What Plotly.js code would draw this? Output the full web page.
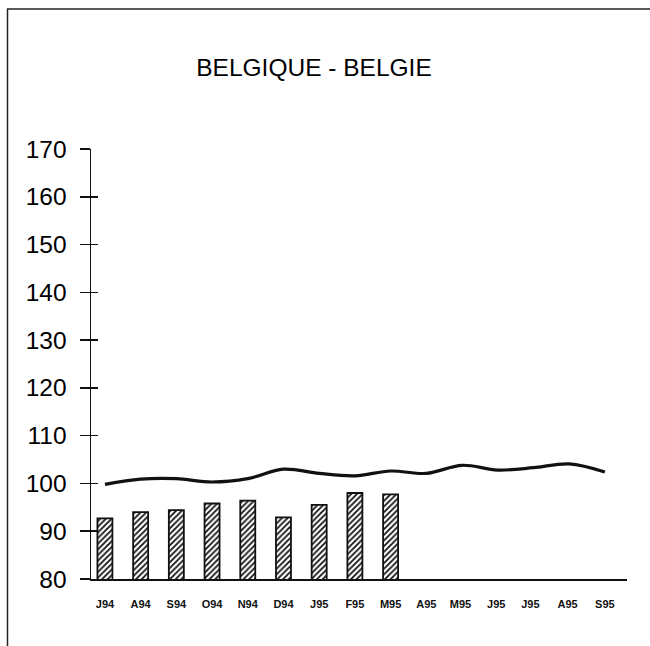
<!DOCTYPE html>
<html>
<head>
<meta charset="utf-8">
<script src="https://cdn.plot.ly/plotly-3.0.1.min.js"></script>
<style>
html,body{margin:0;padding:0;background:#fff;overflow:hidden;}
#chart{width:650px;height:646px;}
</style>
</head>
<body>
<div id="chart"></div>
<script>
const months = ["J94","A94","S94","O94","N94","D94","J95","F95","M95","A95","M95 ","J95 ","J95  ","A95 ","S95"];
const barValues = [92.7, 94.0, 94.4, 95.8, 96.4, 92.9, 95.5, 98.0, 97.7, null, null, null, null, null, null];
const lineValues = [99.8, 100.9, 101.0, 100.3, 101.0, 103.0, 102.1, 101.6, 102.6, 102.1, 103.8, 102.8, 103.3, 104.1, 102.4];
const yTicks = [80, 90, 100, 110, 120, 130, 140, 150, 160, 170];

const font = "Liberation Sans, Arial, Helvetica, sans-serif";
const W = 650, H = 646, L = 91, R = 23, T = 149, B = 67;
const pw = W - L - R, ph = H - T - B;
const px = v => (v - L) / pw;
const py = v => (H - B - v) / ph;

const data = [
  {
    type: "bar", x: months, y: barValues, width: 0.42,
    marker: {color: "#fff", line: {color: "#111", width: 1.8},
      pattern: {shape: "/", fgcolor: "#111", bgcolor: "#fff", size: 4, solidity: 0.45}},
    hoverinfo: "skip"
  },
  {
    type: "scatter", mode: "lines", x: months, y: lineValues,
    line: {color: "#111", width: 3.2, shape: "spline", smoothing: 1.0},
    hoverinfo: "skip"
  },
  {
    type: "scatter", mode: "lines", x: months, y: lineValues, yaxis: "y2",
    line: {color: "rgba(0,0,0,0)", width: 0}, hoverinfo: "skip", showlegend: false
  }
];
const layout = {
  width: W, height: H,
  margin: {l: L, r: R, t: T, b: B},
  paper_bgcolor: "#fff", plot_bgcolor: "#fff",
  showlegend: false, bargap: 0,
  title: {text: "BELGIQUE - BELGIE", font: {family: font, size: 24.5, color: "#000"},
    x: 314/650, xref: "container", xanchor: "center", y: 1 - 67/646, yref: "container", yanchor: "middle"},
  xaxis: {
    type: "category", range: [-0.39, 14.62], showgrid: false, zeroline: false,
    showline: true, linecolor: "#111", linewidth: 1.5, ticks: "",
    tickfont: {family: font, size: 11, color: "#111", weight: "bold"},
    ticklabelstandoff: 14, fixedrange: true
  },
  yaxis: {
    range: [80, 170], tickvals: yTicks, ticktext: yTicks.map(String),
    showgrid: false, zeroline: false, showline: true, linecolor: "#111", linewidth: 1.5,
    ticks: "outside", ticklen: 10, tickwidth: 1.5, tickcolor: "#111",
    tickfont: {family: font, size: 24.5, color: "#000"}, ticklabelstandoff: 8, fixedrange: true
  },
  yaxis2: {
    range: [80, 170], overlaying: "y", side: "left", tickvals: yTicks, showticklabels: false,
    showgrid: false, zeroline: false, showline: false,
    ticks: "inside", ticklen: 7, tickwidth: 1.5, tickcolor: "#111", fixedrange: true
  },
  shapes: [
    {type: "line", xref: "paper", yref: "paper", x0: px(7), x1: px(652), y0: py(9), y1: py(9),
      line: {color: "#222", width: 1.5}, layer: "above"},
    {type: "line", xref: "paper", yref: "paper", x0: px(7.5), x1: px(7.5), y0: py(9), y1: py(648),
      line: {color: "#222", width: 1.5}, layer: "above"}
  ]
};
Plotly.newPlot("chart", data, layout, {displayModeBar: false, staticPlot: true});
</script>
</body>
</html>
